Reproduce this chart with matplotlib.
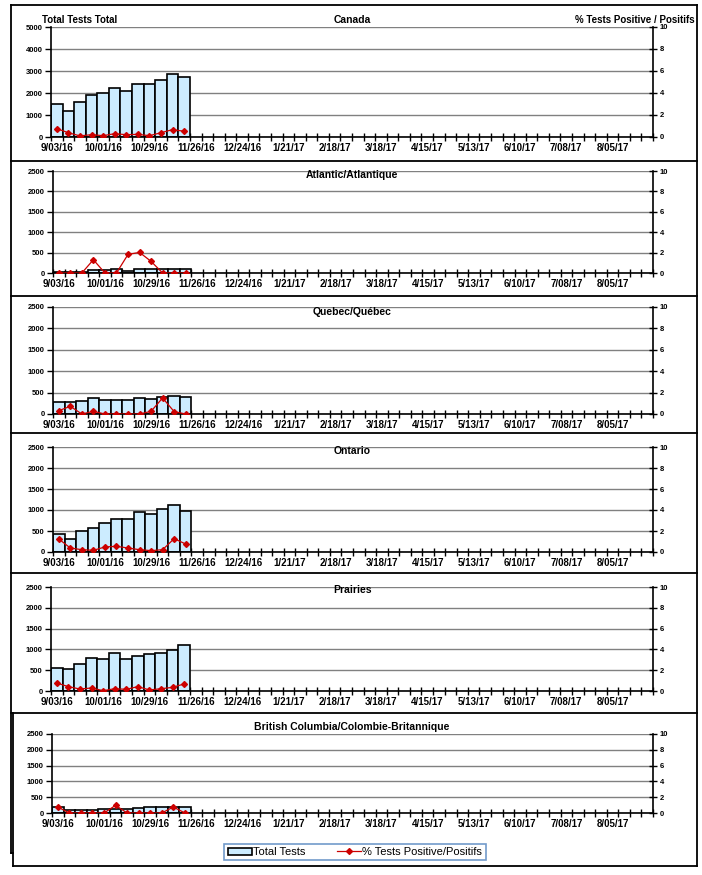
import matplotlib
matplotlib.use("Agg")
import matplotlib.pyplot as plt
from matplotlib.lines import Line2D
import numpy as np

plt.rcParams['font.family'] = ['Liberation Sans', 'DejaVu Sans']

# ---- data ----
n_weeks = 52
date_labels = ["9/03/16", "10/01/16", "10/29/16", "11/26/16", "12/24/16", "1/21/17",
               "2/18/17", "3/18/17", "4/15/17", "5/13/17", "6/10/17", "7/08/17", "8/05/17"]
regions = ["Canada", "Atlantic/Atlantique", "Quebec/Québec", "Ontario", "Prairies",
           "British Columbia/Colombie-Britannique"]

canada_tests = [1480, 1200, 1610, 1930, 2020, 2250, 2110, 2430, 2430, 2570, 2880, 2750]
canada_pct = [0.76, 0.39, 0.10, 0.21, 0.12, 0.30, 0.21, 0.24, 0.12, 0.39, 0.67, 0.52]

atlantic_tests = [20, 25, 30, 70, 70, 95, 40, 100, 100, 90, 95, 90]
atlantic_pct = [0.0, 0.0, 0.0, 1.30, 0.0, 0.0, 1.82, 2.02, 1.14, 0.0, 0.0, 0.0]

quebec_tests = [275, 275, 300, 370, 320, 320, 320, 367, 345, 390, 420, 390]
quebec_pct = [0.31, 0.72, 0.0, 0.25, 0.0, 0.0, 0.0, 0.0, 0.25, 1.50, 0.22, 0.0]

ontario_tests = [430, 310, 500, 570, 690, 785, 785, 950, 910, 1020, 1120, 975]
ontario_pct = [1.24, 0.38, 0.22, 0.16, 0.48, 0.54, 0.38, 0.22, 0.13, 0.22, 1.27, 0.76]

prairies_tests = [545, 520, 640, 785, 760, 905, 760, 835, 880, 905, 980, 1100]
prairies_pct = [0.77, 0.42, 0.19, 0.29, 0.03, 0.22, 0.16, 0.42, 0.10, 0.22, 0.35, 0.68]

bc_tests = [178, 80, 110, 110, 130, 130, 140, 170, 200, 175, 200, 200]
bc_pct = [0.76, 0.0, 0.0, 0.0, 0.0, 0.97, 0.0, 0.0, 0.0, 0.0, 0.76, 0.0]

tests_all = [canada_tests, atlantic_tests, quebec_tests, ontario_tests, prairies_tests, bc_tests]
pct_all = [canada_pct, atlantic_pct, quebec_pct, ontario_pct, prairies_pct, bc_pct]
ymax_left = [5000, 2500, 2500, 2500, 2500, 2500]
ystep_left = [1000, 500, 500, 500, 500, 500]

# ---- layout (pixel geometry) ----
W, H = 702, 875
fig = plt.figure(figsize=(W / 100, H / 100), dpi=100)

def fx(x):
    return x / W

def fy(y):
    return 1 - y / H

# (top px, bottom px, left px) of each plot area
plot_boxes = [(27, 137, 51), (171, 273, 53), (307, 414, 53), (447, 552, 53), (587, 691, 51), (734, 813, 52)]
right_px = 653
title_y = [20, 175, 312, 451, 590, 727]

bar_color = "#CCECFF"
red = "#CC0000"
grid_gray = "#808080"

handles = None
for i, (top, bot, left) in enumerate(plot_boxes):
    ax = fig.add_axes([fx(left), fy(bot), (right_px - left) / W, (bot - top) / H])
    x = np.arange(len(tests_all[i]))
    bars = ax.bar(x, tests_all[i], width=1.0, color=bar_color, edgecolor="black",
                  linewidth=1.2, zorder=2)
    ax.set_xlim(-0.5, n_weeks - 0.5)
    ax.set_ylim(0, ymax_left[i])
    ax.set_yticks(np.arange(0, ymax_left[i] + 1, ystep_left[i]))
    ax.yaxis.grid(True, color=grid_gray, linewidth=1.0)
    ax.set_axisbelow(True)
    # week boundary ticks
    ax.set_xticks(np.arange(-0.5, n_weeks, 1.0))
    ax.set_xticklabels([])
    ax.tick_params(axis='x', which='major', direction='inout', length=6, width=1.0)
    ax.set_xticks(np.arange(0, n_weeks, 4), minor=True)
    ax.set_xticklabels(date_labels, minor=True, fontsize=7, fontweight='bold')
    ax.tick_params(axis='x', which='minor', length=0, pad=4)
    ax.tick_params(axis='y', direction='out', length=4, width=1.0, labelsize=5.5, pad=2)
    for lab in ax.get_yticklabels():
        lab.set_fontweight('bold')
    ax.spines['top'].set_visible(False)
    ax.spines['right'].set_visible(False)
    ax.spines['left'].set_linewidth(1.2)
    ax.spines['bottom'].set_linewidth(1.2)

    ax2 = ax.twinx()
    line, = ax2.plot(x, pct_all[i], color=red, linewidth=0.9, marker='D', markersize=3.0,
                     markerfacecolor=red, markeredgecolor=red, zorder=3)
    ax2.set_ylim(0, 10)
    ax2.set_yticks(np.arange(0, 11, 2))
    ax2.tick_params(axis='y', direction='inout', length=6, width=1.0, labelsize=5.5, pad=2)
    for lab in ax2.get_yticklabels():
        lab.set_fontweight('bold')
    ax2.spines['top'].set_visible(False)
    ax2.spines['right'].set_linewidth(1.2)
    ax2.spines['left'].set_visible(False)
    ax2.spines['bottom'].set_visible(False)

    fig.text(fx(352), fy(title_y[i]), regions[i], ha='center', va='center',
             fontsize=7.5, fontweight='bold')
    if i == 0:
        handles = [bars, line]
        fig.text(fx(42), fy(20), "Total Tests Total", ha='left', va='center',
                 fontsize=7, fontweight='bold')
        fig.text(fx(695), fy(20), "% Tests Positive / Positifs", ha='right', va='center',
                 fontsize=7, fontweight='bold')

# ---- panel frames ----
def hline(y, x0, x1, lw=1.3):
    fig.add_artist(Line2D([fx(x0), fx(x1)], [fy(y), fy(y)], color='black', linewidth=lw,
                          transform=fig.transFigure))

def vline(x, y0, y1, lw=1.3):
    fig.add_artist(Line2D([fx(x), fx(x)], [fy(y0), fy(y1)], color='black', linewidth=lw,
                          transform=fig.transFigure))

for y in [5, 161, 296, 433, 573, 713]:
    hline(y, 11, 697)
vline(11, 5, 853)
hline(853, 11, 13)
vline(697, 5, 866)
vline(13, 713, 866)
hline(866, 13, 697)

# ---- legend ----
leg = fig.legend(handles, ["Total Tests", "% Tests Positive/Positifs"], loc='center',
                 bbox_to_anchor=(fx(355), fy(852)), ncol=2, fontsize=8, frameon=True,
                 fancybox=False, edgecolor="#4F81BD", handlelength=2.2, handleheight=0.6,
                 handletextpad=0.1, columnspacing=2.8, borderpad=0.3)
leg.get_frame().set_linewidth(1.2)

fig.savefig("out.png", dpi=100)
